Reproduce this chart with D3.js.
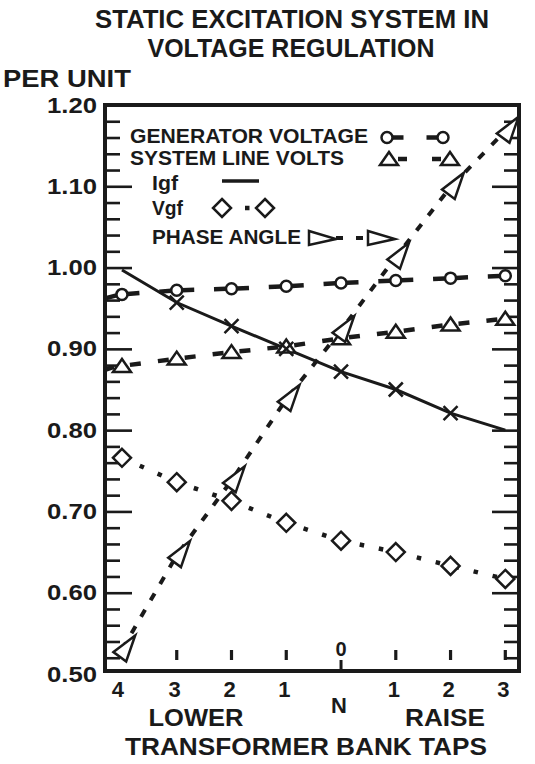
<!DOCTYPE html>
<html>
<head>
<meta charset="utf-8">
<script src="https://cdn.jsdelivr.net/npm/d3@7"></script>
<style>
  body { margin: 0; background: #fff; }
  text { font-family: "Liberation Sans", Arial, sans-serif; font-weight: bold; fill: #1a1a1a; }
</style>
</head>
<body>
<div id="chart"></div>
<script>
// values (per unit)
const taps = ["4", "3", "2", "1", "N", "1", "2", "3"];
const generatorVoltage = [0.967, 0.972, 0.974, 0.977, 0.981, 0.984, 0.987, 0.990];
const systemLineVolts = [0.879, 0.888, 0.896, 0.903, 0.913, 0.921, 0.930, 0.937];
const igf = [0.997, 0.957, 0.928, 0.900, 0.872, 0.850, 0.821, 0.800];
const vgf = [0.766, 0.736, 0.713, 0.686, 0.664, 0.650, 0.633, 0.617];
const phaseAngle = [0.530, 0.646, 0.738, 0.838, 0.923, 1.013, 1.099, 1.168];
const yLabels = [0.50, 0.60, 0.70, 0.80, 0.90, 1.00, 1.10, 1.20];

const width = 535, height = 764;
const ink = "#1a1a1a";

const x = d3.scaleLinear().domain([-0.31, 7.25]).range([105, 519]);
const y = d3.scaleLinear().domain([0.5, 1.2]).range([674, 105]);
const frameBottom = 671;

const svg = d3.select("#chart")
  .append("svg")
  .attr("width", width)
  .attr("height", height);

// titles
svg.append("text").attr("x", 292).attr("y", 28).attr("text-anchor", "middle")
  .attr("font-size", 25).attr("textLength", 394).attr("lengthAdjust", "spacingAndGlyphs")
  .text("STATIC EXCITATION SYSTEM IN");
svg.append("text").attr("x", 291).attr("y", 57).attr("text-anchor", "middle")
  .attr("font-size", 25).attr("textLength", 287).attr("lengthAdjust", "spacingAndGlyphs")
  .text("VOLTAGE REGULATION");
svg.append("text").attr("x", 3).attr("y", 87)
  .attr("font-size", 23).attr("textLength", 128).attr("lengthAdjust", "spacingAndGlyphs")
  .text("PER UNIT");

// y ticks, both sides
const minor = d3.range(26, 60).map(k => k / 50).filter(k => Math.round(k * 50) % 5 != 0);
const major = d3.range(6, 12).map(k => k / 10);

function ticks(axis, xPos, values, size) {
  const g = svg.append("g")
    .attr("transform", `translate(${xPos},0)`)
    .call(axis(y).tickValues(values).tickSize(-size).tickFormat(""));
  g.select(".domain").remove();
  g.selectAll("line").attr("stroke", ink).attr("stroke-width", 2.6);
}
ticks(d3.axisLeft, x.range()[0], minor, 15);
ticks(d3.axisLeft, x.range()[0], major, 27);
ticks(d3.axisRight, x.range()[1], minor, 15);
ticks(d3.axisRight, x.range()[1], major, 27);

const yAxis = svg.append("g")
  .attr("transform", `translate(${x.range()[0]},0)`)
  .call(d3.axisLeft(y).tickValues(yLabels).tickSize(0).tickPadding(8).tickFormat(d3.format(".2f")));
yAxis.select(".domain").remove();
yAxis.selectAll("text")
  .attr("font-size", 22)
  .attr("textLength", 50)
  .attr("lengthAdjust", "spacingAndGlyphs")
  .attr("fill", ink)
  .style("font-family", '"Liberation Sans", Arial, sans-serif');

// frame
svg.append("rect")
  .attr("x", x.range()[0]).attr("y", y(1.2))
  .attr("width", x.range()[1] - x.range()[0])
  .attr("height", frameBottom - y(1.2))
  .attr("fill", "none").attr("stroke", ink).attr("stroke-width", 4);

// tap marks along the bottom
taps.forEach((t, i) => {
  if (i == 0) return;
  if (t == "N") {
    svg.append("line").attr("x1", x(i)).attr("x2", x(i)).attr("y1", 660).attr("y2", frameBottom)
      .attr("stroke", ink).attr("stroke-width", 3);
    svg.append("text").attr("x", x(i)).attr("y", 656).attr("text-anchor", "middle")
      .attr("font-size", 20).text("0");
  } else {
    svg.append("line").attr("x1", x(i)).attr("x2", x(i)).attr("y1", 650).attr("y2", 660)
      .attr("stroke", ink).attr("stroke-width", 3.2);
  }
});

svg.append("g")
  .selectAll("text")
  .data(taps)
  .join("text")
  .attr("x", (d, i) => x(i) - (i == 0 ? 4 : 2))
  .attr("y", d => d == "N" ? 713 : 697)
  .attr("text-anchor", "middle")
  .attr("font-size", 22)
  .text(d => d);

svg.append("text").attr("x", 196).attr("y", 726).attr("text-anchor", "middle")
  .attr("font-size", 23).attr("textLength", 95).attr("lengthAdjust", "spacingAndGlyphs").text("LOWER");
svg.append("text").attr("x", 445).attr("y", 726).attr("text-anchor", "middle")
  .attr("font-size", 23).attr("textLength", 80).attr("lengthAdjust", "spacingAndGlyphs").text("RAISE");
svg.append("text").attr("x", 306).attr("y", 755).attr("text-anchor", "middle")
  .attr("font-size", 24).attr("textLength", 362).attr("lengthAdjust", "spacingAndGlyphs")
  .text("TRANSFORMER BANK TAPS");

// marker shapes
const shapes = {
  circle: "M5.5,0A5.5,5.5 0 1,1 -5.5,0A5.5,5.5 0 1,1 5.5,0Z",
  triangle: "M0,-7L9,6L-9,6Z",
  diamond: "M0,-9L9,0L0,9L-9,0Z",
  cross: "M-7,-7L7,7M-7,7L7,-7",
  arrow: "M-11.5,2.5L10.2,-14.2L1.2,11.8Z",
  arrowRight: "M-13,-7L14,1L-13,7Z"
};

function dashedSegments(values, gap, dash) {
  const pts = values.map((v, i) => [x(i), y(v)]);
  // short lead from the frame to the first marker
  svg.append("line")
    .attr("x1", x.range()[0]).attr("y1", pts[0][1] + 4)
    .attr("x2", pts[0][0] - gap).attr("y2", pts[0][1] + 1)
    .attr("stroke", ink).attr("stroke-width", 4.5);
  d3.pairs(pts).forEach(([a, b]) => {
    const len = Math.hypot(b[0] - a[0], b[1] - a[1]);
    svg.append("line")
      .attr("x1", a[0]).attr("y1", a[1]).attr("x2", b[0]).attr("y2", b[1])
      .attr("stroke", ink).attr("stroke-width", 4.5)
      .attr("stroke-dasharray", `0 ${gap} ${dash} ${len - 2 * gap - 2 * dash} ${dash} ${gap}`);
  });
}

function markers(values, shape, keep, dx = 0) {
  svg.append("g")
    .selectAll("path")
    .data(values.map((v, i) => [i, v]).filter(d => keep(d[0])))
    .join("path")
    .attr("transform", d => `translate(${x(d[0]) + dx},${y(d[1])})`)
    .attr("d", shapes[shape])
    .attr("fill", "#fff")
    .attr("stroke", ink)
    .attr("stroke-width", 2.5);
}

const line = d3.line().x((d, i) => x(i)).y(d => y(d));

// Igf solid
svg.append("path").attr("d", line(igf)).attr("fill", "none")
  .attr("stroke", ink).attr("stroke-width", 3);
// Vgf dotted
svg.append("path").attr("d", line(vgf)).attr("fill", "none")
  .attr("stroke", ink).attr("stroke-width", 4.5).attr("stroke-dasharray", "4.5 15");
// phase angle dashed
svg.append("path").attr("d", line(phaseAngle)).attr("fill", "none")
  .attr("stroke", ink).attr("stroke-width", 4).attr("stroke-dasharray", "8 11");

dashedSegments(generatorVoltage, 5.5, 12);
dashedSegments(systemLineVolts, 8, 11);

markers(generatorVoltage, "circle", () => true);
markers(systemLineVolts, "triangle", () => true);
markers(igf, "cross", i => i > 0 && i < igf.length - 1);
markers(vgf, "diamond", () => true);
markers(phaseAngle, "arrow", () => true, 3);

// legend
const legend = svg.append("g");
const rows = [
  {label: "GENERATOR VOLTAGE", x: 130, y: 143, len: 238},
  {label: "SYSTEM LINE VOLTS", x: 130, y: 165, len: 214},
  {label: "Igf", x: 152, y: 190, len: 26},
  {label: "Vgf", x: 152, y: 215, len: 31},
  {label: "PHASE ANGLE", x: 152, y: 244, len: 149}
];
legend.selectAll("text")
  .data(rows)
  .join("text")
  .attr("x", d => d.x).attr("y", d => d.y)
  .attr("font-size", 20)
  .attr("textLength", d => d.len)
  .attr("lengthAdjust", "spacingAndGlyphs")
  .text(d => d.label);

function sample(x0, x1, yy, shape, width, pattern) {
  legend.append("line")
    .attr("x1", x0).attr("x2", x1).attr("y1", yy).attr("y2", yy)
    .attr("stroke", ink).attr("stroke-width", width)
    .attr("stroke-dasharray", pattern);
  [x0, x1].forEach(cx => legend.append("path")
    .attr("transform", `translate(${cx},${yy})`)
    .attr("d", shapes[shape])
    .attr("fill", "#fff").attr("stroke", ink).attr("stroke-width", 2.5));
}
sample(387, 443, 137.5, "circle", 4.5, "0 5.5 11 23 11 5.5");
sample(389, 450, 159, "triangle", 4.5, "0 9 9 25 9 9");
legend.append("line").attr("x1", 222).attr("x2", 259).attr("y1", 181).attr("y2", 181)
  .attr("stroke", ink).attr("stroke-width", 3.5);
sample(222, 265, 208, "diamond", 4.5, "0 23 4.5 30");
sample(322, 381, 238, "arrowRight", 4, "0 14 7 13 7 30");
</script>
</body>
</html>
